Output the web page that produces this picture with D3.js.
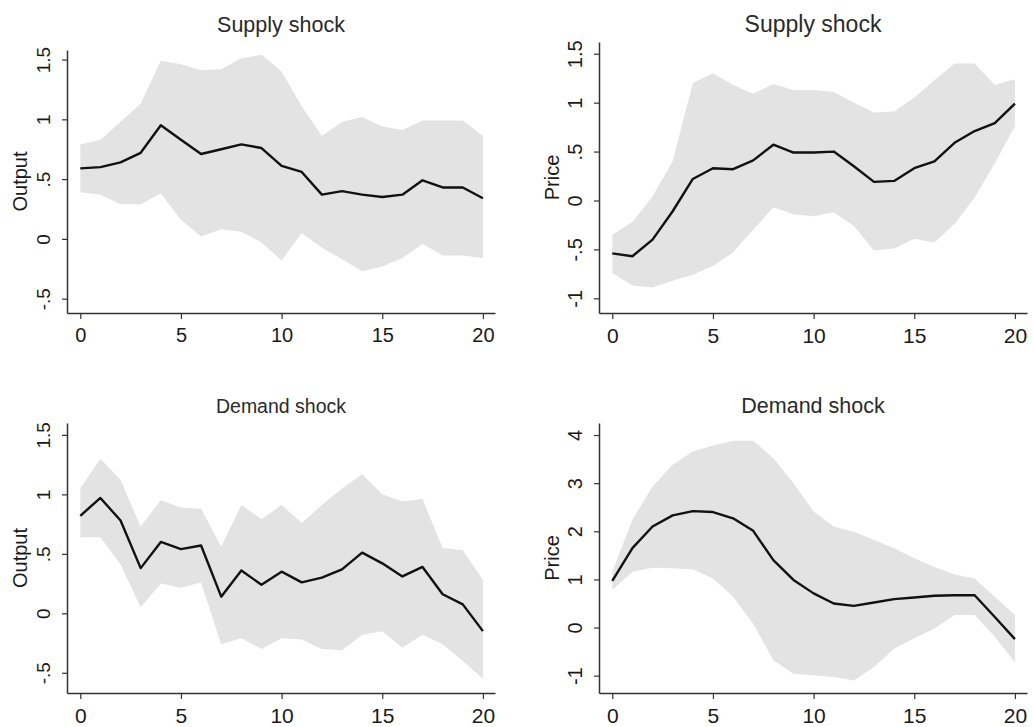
<!DOCTYPE html>
<html>
<head>
<meta charset="utf-8">
<script src="https://cdn.jsdelivr.net/npm/d3@7"></script>
<style>
  body { margin: 0; background: #fff; }
  svg { font-family: "Liberation Sans", Arial, Helvetica, sans-serif; }
</style>
</head>
<body>
<div id="chart"></div>
<script>
// horizons (x categories)
var steps = [0,1,2,3,4,5,6,7,8,9,10,11,12,13,14,15,16,17,18,19,20];
var xTicks = [0,5,10,15,20];

// supply shock -> output
var supplyOutputIrf = [0.59,0.60,0.64,0.72,0.95,0.83,0.71,0.75,0.79,0.76,0.61,0.56,0.37,0.40,0.37,0.35,0.37,0.49,0.43,0.43,0.34];
var supplyOutputLo  = [0.39,0.37,0.29,0.29,0.38,0.16,0.02,0.08,0.06,-0.03,-0.18,0.05,-0.075,-0.17,-0.27,-0.23,-0.16,-0.04,-0.14,-0.14,-0.16];
var supplyOutputHi  = [0.79,0.83,0.98,1.13,1.49,1.46,1.41,1.42,1.51,1.54,1.40,1.11,0.86,0.98,1.02,0.94,0.91,0.99,0.99,0.99,0.86];

// supply shock -> price
var supplyPriceIrf = [-0.54,-0.57,-0.40,-0.11,0.22,0.33,0.32,0.41,0.57,0.49,0.49,0.50,0.35,0.19,0.20,0.33,0.40,0.59,0.71,0.79,0.99];
var supplyPriceLo  = [-0.74,-0.87,-0.89,-0.82,-0.76,-0.67,-0.53,-0.30,-0.07,-0.14,-0.16,-0.12,-0.26,-0.51,-0.49,-0.39,-0.43,-0.24,0.03,0.38,0.76];
var supplyPriceHi  = [-0.35,-0.22,0.04,0.40,1.20,1.30,1.18,1.09,1.19,1.13,1.13,1.11,1.00,0.90,0.91,1.05,1.23,1.40,1.40,1.18,1.24];

// demand shock -> output
var demandOutputIrf = [0.82,0.97,0.78,0.38,0.60,0.54,0.57,0.14,0.36,0.24,0.35,0.26,0.30,0.37,0.51,0.42,0.31,0.39,0.16,0.075,-0.15];
var demandOutputLo  = [0.64,0.64,0.41,0.05,0.25,0.215,0.26,-0.26,-0.21,-0.30,-0.21,-0.22,-0.30,-0.31,-0.18,-0.15,-0.29,-0.18,-0.26,-0.40,-0.55];
var demandOutputHi  = [1.05,1.30,1.12,0.73,0.95,0.89,0.88,0.56,0.91,0.79,0.91,0.76,0.91,1.05,1.17,1.00,0.94,0.96,0.55,0.53,0.28];

// demand shock -> price
var demandPriceIrf = [0.97,1.65,2.10,2.33,2.42,2.40,2.27,2.01,1.40,0.99,0.71,0.50,0.45,0.52,0.59,0.625,0.66,0.67,0.67,0.22,-0.24];
var demandPriceLo  = [0.78,1.16,1.24,1.23,1.21,1.02,0.64,0.08,-0.68,-0.96,-0.99,-1.03,-1.10,-0.82,-0.44,-0.22,-0.02,0.26,0.26,-0.19,-0.72];
var demandPriceHi  = [1.16,2.24,2.93,3.38,3.66,3.78,3.88,3.88,3.52,3.00,2.41,2.10,1.99,1.82,1.65,1.44,1.26,1.10,1.02,0.64,0.26];

// y tick values and their (Stata style) labels
var outputTicks = [-0.5,0,0.5,1,1.5];
var outputTickLabels = ["-.5","0",".5","1","1.5"];
var supplyPriceTicks = [-1,-0.5,0,0.5,1,1.5];
var supplyPriceTickLabels = ["-1","-.5","0",".5","1","1.5"];
var demandPriceTicks = [-1,0,1,2,3,4];
var demandPriceTickLabels = ["-1","0","1","2","3","4"];

var width = 1033, height = 727;

var panels = [
    {title: "Supply shock", ylab: "Output", irf: supplyOutputIrf, lo: supplyOutputLo, hi: supplyOutputHi,
     ticks: outputTicks, tickLabels: outputTickLabels, yDom: [-0.62, 1.58],
     left: 67, top: 50, bottom: 313, titleY: 32, titleSize: 21.5, ySize: 19, xSize: 20},
    {title: "Supply shock", ylab: "Price", irf: supplyPriceIrf, lo: supplyPriceLo, hi: supplyPriceHi,
     ticks: supplyPriceTicks, tickLabels: supplyPriceTickLabels, yDom: [-1.15, 1.62],
     left: 599, top: 42, bottom: 313, titleY: 32, titleSize: 23, ySize: 20, xSize: 21},
    {title: "Demand shock", ylab: "Output", irf: demandOutputIrf, lo: demandOutputLo, hi: demandOutputHi,
     ticks: outputTicks, tickLabels: outputTickLabels, yDom: [-0.67, 1.6],
     left: 67, top: 423, bottom: 693, titleY: 413, titleSize: 19.5, ySize: 19, xSize: 21},
    {title: "Demand shock", ylab: "Price", irf: demandPriceIrf, lo: demandPriceLo, hi: demandPriceHi,
     ticks: demandPriceTicks, tickLabels: demandPriceTickLabels, yDom: [-1.36, 4.25],
     left: 599, top: 423, bottom: 693, titleY: 413, titleSize: 21.5, ySize: 20, xSize: 21}
];

var svg = d3.select("#chart").append("svg")
    .attr("width", width)
    .attr("height", height);

svg.append("rect").attr("width", width).attr("height", height).attr("fill", "#fff");

panels.forEach(function(p){
    var plotW = 428;
    var xScale = d3.scaleLinear()
        .domain([-0.66, 20.6])
        .range([p.left, p.left + plotW]);
    var yScale = d3.scaleLinear()
        .domain(p.yDom)
        .range([p.bottom, p.top]);

    var rows = steps.map(function(s, i){
        return {h: s, irf: p.irf[i], lo: p.lo[i], hi: p.hi[i]};
    });

    var band = d3.area()
        .x(function(d){ return xScale(d.h); })
        .y0(function(d){ return yScale(d.lo); })
        .y1(function(d){ return yScale(d.hi); });

    var line = d3.line()
        .x(function(d){ return xScale(d.h); })
        .y(function(d){ return yScale(d.irf); });

    svg.append("path")
        .datum(rows)
        .attr("d", band)
        .attr("fill", "#e3e3e3");

    svg.append("path")
        .datum(rows)
        .attr("d", line)
        .attr("fill", "none")
        .attr("stroke", "#111")
        .attr("stroke-width", 2.4)
        .attr("stroke-linejoin", "round");

    // x axis
    var xAxis = d3.axisBottom(xScale)
        .tickValues(xTicks)
        .tickSize(6)
        .tickSizeOuter(0)
        .tickPadding(9);
    var gx = svg.append("g")
        .attr("transform", "translate(0," + p.bottom + ")")
        .call(xAxis);
    gx.selectAll("text").style("font-size", p.xSize + "px").attr("fill", "#1a1a1a");

    // y axis, labels turned vertical
    var yAxis = d3.axisLeft(yScale)
        .tickValues(p.ticks)
        .tickFormat(function(d, i){ return p.tickLabels[i]; })
        .tickSize(5)
        .tickSizeOuter(0);
    var gy = svg.append("g")
        .attr("transform", "translate(" + p.left + ",0)")
        .call(yAxis);
    gy.selectAll("text")
        .attr("x", 0)
        .attr("y", -17)
        .attr("dy", 0)
        .attr("transform", "rotate(-90)")
        .style("text-anchor", "middle")
        .style("font-size", p.ySize + "px")
        .attr("fill", "#1a1a1a");

    svg.selectAll(".domain").attr("stroke", "#333").attr("stroke-width", 1.5);
    svg.selectAll(".tick line").attr("stroke", "#333").attr("stroke-width", 1.2);

    // titles
    svg.append("text")
        .attr("x", p.left + plotW / 2)
        .attr("y", p.titleY)
        .attr("text-anchor", "middle")
        .style("font-size", p.titleSize + "px")
        .attr("fill", "#2a2a2a")
        .text(p.title);

    svg.append("text")
        .attr("transform", "translate(" + (p.left - 40) + "," + ((p.top + p.bottom) / 2) + ") rotate(-90)")
        .attr("text-anchor", "middle")
        .style("font-size", "20px")
        .attr("fill", "#1a1a1a")
        .text(p.ylab);
});
</script>
</body>
</html>
